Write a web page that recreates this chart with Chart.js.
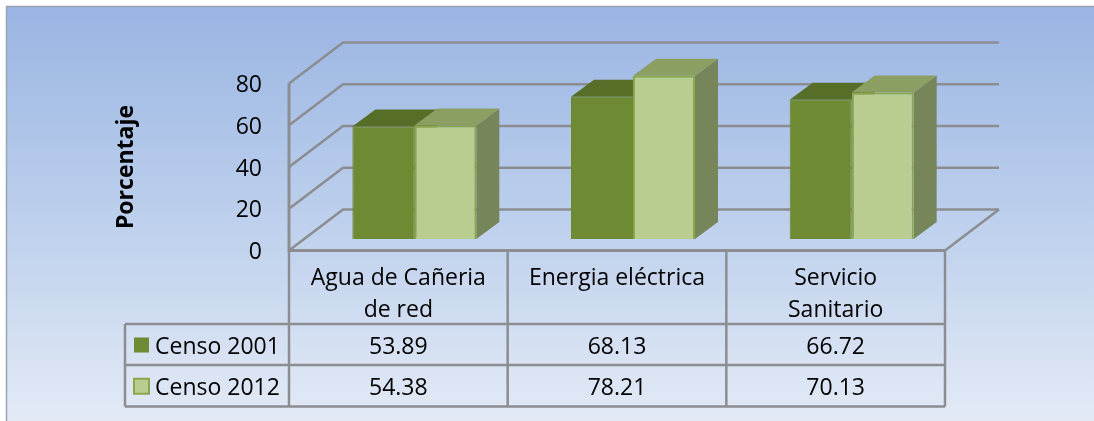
<!DOCTYPE html>
<html><head><meta charset="utf-8">
<style>html,body{margin:0;padding:0;background:#fff;overflow:hidden}canvas{display:block}</style>
<script src="https://cdn.jsdelivr.net/npm/chart.js@4"></script></head>
<body><canvas id="c" width="1094" height="421"></canvas>
<script>
const categories=[["Agua de Cañeria","de red"],["Energia eléctrica"],["Servicio","Sanitario"]];
const seriesNames=["Censo 2001","Censo 2012"];
const censo2001=[53.89,68.13,66.72];
const censo2012=[54.38,78.21,70.13];
const yTicks=[0,20,40,60,80];

const FONT='"Open Sans", sans-serif', FS=23, GRID='#8b8d91';
const BACK={x:54,y:-41}, DEPTH={x:23,y:-17}, SHIFT={x:16,y:-11.5};
const faces=[{top:'#566e28',side:'#5c7229',front:'#6e8a32',border:'#6b8830'},
             {top:'#8c9f62',side:'#76865a',front:'#b9cd90',border:'#8aa84a'}];

function line(ctx,pts,w,col){ctx.beginPath();pts.forEach((p,i)=>i?ctx.lineTo(p[0],p[1]):ctx.moveTo(p[0],p[1]));
  ctx.lineWidth=w;ctx.strokeStyle=col;ctx.stroke();}
function poly(ctx,pts,col){ctx.beginPath();pts.forEach((p,i)=>i?ctx.lineTo(p[0],p[1]):ctx.moveTo(p[0],p[1]));ctx.closePath();ctx.fillStyle=col;ctx.fill();}

const scene={id:'scene',
 beforeDraw(ch){const c=ch.ctx,W=ch.width,H=ch.height;
  c.fillStyle='#fff';c.fillRect(0,0,W,H);
  const g=c.createLinearGradient(0,7,0,H);g.addColorStop(0,'#9ab5e3');g.addColorStop(.5,'#bccfec');g.addColorStop(1,'#e3eaf6');
  c.fillStyle=g;c.fillRect(7,7,W-7,H-7);
  line(c,[[6.5,H],[6.5,6.5],[W,6.5]],1.5,'#9aa3b3');},
 beforeDatasetsDraw(ch){const c=ch.ctx,y=ch.scales.y,a=ch.chartArea;
  c.save();
  yTicks.forEach(v=>{const p=y.getPixelForValue(v);
    line(c,[[a.left,p],[a.left+BACK.x,p+BACK.y],[a.right+BACK.x,p+BACK.y]],2.5,GRID);});
  const b=y.getPixelForValue(0);
  line(c,[[a.right+BACK.x,b+BACK.y],[a.right,b]],2.5,GRID);
  line(c,[[a.left,y.getPixelForValue(80)],[a.left,b],[a.right,b]],3,GRID);
  c.translate(SHIFT.x,SHIFT.y);
  [0,1].forEach(i=>{ch.getDatasetMeta(i).data.forEach(el=>{
    const l=el.x-el.width/2,r=el.x+el.width/2,t=el.y,bo=el.base,f=faces[i];
    poly(c,[[r,t],[r+DEPTH.x,t+DEPTH.y],[r+DEPTH.x,bo+DEPTH.y],[r,bo]],f.side);
    poly(c,[[l,t],[l+DEPTH.x,t+DEPTH.y],[r+DEPTH.x,t+DEPTH.y],[r,t]],f.top);
  });});
 },
 afterDatasetsDraw(ch){ch.ctx.restore();},
 afterDraw(ch){const c=ch.ctx,x=ch.scales.x,a=ch.chartArea;
  const rows=[324,365,406.5],tl=125;
  const step=(a.right-a.left)/categories.length;
  const edges=[0,1,2,3].map(i=>a.left+i*step);
  rows.forEach(r=>line(c,[[tl,r],[edges[3],r]],2.5,GRID));
  line(c,[[tl,rows[0]],[tl,rows[2]]],2.5,GRID);
  edges.forEach(e=>line(c,[[e,a.bottom],[e,rows[2]]],2.5,GRID));
  c.font=FS+'px '+FONT;c.textBaseline='middle';
  const vals=[censo2001,censo2012];
  vals.forEach((s,i)=>{const cy=(rows[i]+rows[i+1])/2+0.5;
    c.fillStyle=faces[i].front;c.fillRect(134,cy-7.5,15,15);
    if(i){c.strokeStyle=faces[i].border;c.lineWidth=2;c.strokeRect(134,cy-7.5,15,15);}
    c.fillStyle='#000';c.textAlign='left';c.fillText(seriesNames[i],155,cy+2);
    c.textAlign='center';s.forEach((v,k)=>c.fillText(v.toFixed(2),x.getPixelForValue(k),cy+2));});
 }};

new Chart(document.getElementById('c'),{type:'bar',
 data:{labels:categories,datasets:[
  {label:seriesNames[0],data:censo2001,backgroundColor:faces[0].front,borderColor:faces[0].border,borderWidth:1},
  {label:seriesNames[1],data:censo2012,backgroundColor:faces[1].front,borderColor:faces[1].border,borderWidth:2}]},
 options:{responsive:false,animation:false,events:[],
  layout:{padding:{left:113,top:83.5,right:149,bottom:0}},
  plugins:{legend:{display:false},tooltip:{enabled:false},title:{display:false}},
  datasets:{bar:{categoryPercentage:.567,barPercentage:1,clip:false}},
  scales:{
   x:{afterFit(s){s.height=170.5;},grid:{display:false},border:{display:false},
      ticks:{padding:4,maxRotation:0,autoSkip:false,color:'#000',font:{family:FONT,size:FS,lineHeight:1.39}}},
   y:{min:0,max:80,afterFit(s){s.width=289-113;},grid:{display:false,drawTicks:false},border:{display:false},
      afterBuildTicks(s){s.ticks=yTicks.map(v=>({value:v}));},
      ticks:{padding:27,labelOffset:2,color:'#000',font:{family:FONT,size:FS}},
      title:{display:true,text:'Porcentaje',color:'#000',padding:0,font:{family:FONT,size:23,weight:'bold'}}}
  }},
 plugins:[scene]});
</script></body></html>
